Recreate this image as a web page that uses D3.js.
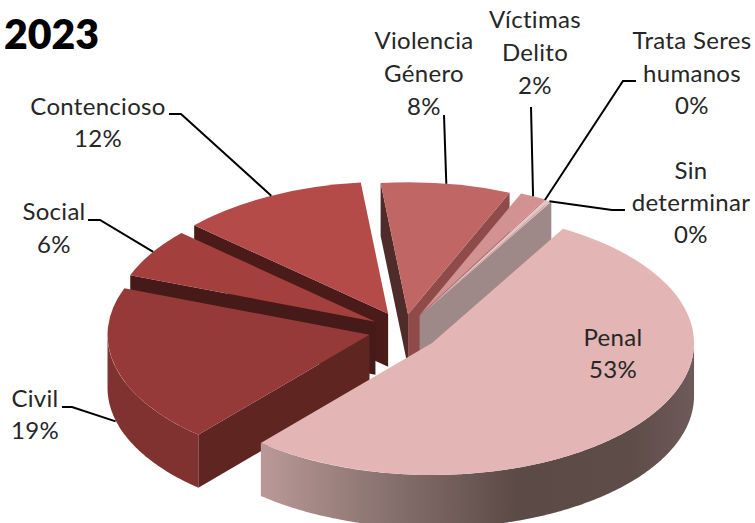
<!DOCTYPE html>
<html><head><meta charset="utf-8">
<style>html,body{margin:0;padding:0;background:#fff}svg{display:block}text{font-family:Lato,"Open Sans",sans-serif;fill:#262626}</style>
<script src="https://cdn.jsdelivr.net/npm/d3@7"></script></head>
<body><svg width="755" height="523"></svg>
<script>
// Data
const title = "2023";
const categories = ["Penal","Civil","Social","Contencioso","Violencia Género","Víctimas Delito","Trata Seres humanos","Sin determinar"];
const values = [53,19.4,6,11.6,8,1.6,0.3,0.1];
const explodeX = [0.15,0.12,0.11,0.10,0.21,0.172,0.156,0.156];
const explodeY = [0.17,0.147,0.12,0.137,0.12,0.125,0.122,0.122];
// Colours
const topColors = ["#E3B5B4","#953A38","#A33F3C","#B44B48","#C06665","#D19291","#E6C6C5","#E6C6C5"];
const startWall = ["#5E2521","#5E2521","#451A18","#4B1B19","#4F2C2A","#8F4B4A","#9E8988","#9E8988"];
const endWall = ["#5E2521","#5E2521","#451A18","#4B1B19","#8F4B4A","#A66A69","#9E8988","#9E8988"];
const outerWall = ["url(#penalWall)","#7F3230","#7F3230","#7F3230","#7F3230","#7F3230","#9E8988","#9E8988"];
// Label layout
const labelLines = [["Penal"],["Civil"],["Social"],["Contencioso"],["Violencia","Género"],["Víctimas","Delito"],["Trata Seres","humanos"],["Sin","determinar"]];
const labelX = [613,35,54,98,424,535,692,691];
const labelY = [346,407,220,115,49,28,49,179];
const lineGap = [32,32,33,32,33,33,32.5,32];
const leaderFrom = [null,[62,407],[88,220],[169,114],[444,115],[531,107],[636,81],[625,210]];
const leaderElbow = [null,[72,407],[100,220],[181,114],null,null,[623,81],[612,210]];
const leaderDrop = [0,54,0,0,0,0,0,0];
const leaderAngle = [null,null,302,333.5,null,null,28.5,29.5];

const W=755,H=523, cx=400, cy=330, rx=262, ry=132, depth=53;
const svg=d3.select("svg");
const rad=Math.PI/180;
const pct=d3.format(".0%"), total=d3.sum(values);

const defs=svg.append("defs");
const grad=defs.append("linearGradient").attr("id","penalWall").attr("gradientUnits","userSpaceOnUse").attr("x1",260).attr("x2",694).attr("y1",0).attr("y2",0);
[[0,"#BA9A98"],[0.28,"#8A7370"],[0.59,"#5C4A47"],[0.85,"#5E4C49"],[1,"#6E5B59"]].forEach(s=>grad.append("stop").attr("offset",s[0]).attr("stop-color",s[1]));

const pie=d3.pie().sort(null).startAngle(30*rad).endAngle(390*rad);
const arcs=pie(values).map((a,i)=>{
  const m=(a.startAngle+a.endAngle)/2;
  return {...a,i,mid:m,ax:cx+explodeX[i]*rx*Math.sin(m),ay:cy-explodeY[i]*ry*Math.cos(m)};
});
const pt=(s,ang,z=0)=>[s.ax+rx*Math.sin(ang), s.ay-ry*Math.cos(ang)+z];
const line=d3.line();
const arcGen=d3.arc().innerRadius(0).outerRadius(rx);
const order=[3,2,1,4,5,6,7,0];

const g=svg.append("g");
order.map(i=>arcs[i]).forEach(s=>{
  const c=g.append("g").attr("class","slice");
  // radial walls
  const wall=(ang)=>[[s.ax,s.ay],pt(s,ang),pt(s,ang,depth),[s.ax,s.ay+depth]];
  if(Math.cos(s.startAngle-Math.PI/2)<0) c.append("path").attr("d",line(wall(s.startAngle))+"Z").attr("fill",startWall[s.i]);
  if(Math.cos(s.endAngle+Math.PI/2)<0) c.append("path").attr("d",line(wall(s.endAngle))+"Z").attr("fill",endWall[s.i]);
  // outer wall on the front half of the rim
  const a0=Math.max(s.startAngle,90*rad), a1=Math.min(s.endAngle,270*rad);
  if(a1>a0){
    const ang=d3.range(a0,a1,0.01).concat([a1]);
    const pts=ang.map(t=>pt(s,t)).concat(ang.slice().reverse().map(t=>pt(s,t,depth)));
    c.append("path").attr("d",line(pts)+"Z").attr("fill",outerWall[s.i]);
  }
  // top face
  c.append("path").attr("transform",`translate(${s.ax},${s.ay}) scale(1,${ry/rx})`)
    .attr("d",arcGen(s)).attr("fill",topColors[s.i]);
});

// leaders
arcs.forEach(s=>{
  if(!leaderFrom[s.i]) return;
  const ang=leaderAngle[s.i]===null?s.mid:leaderAngle[s.i]*rad;
  const end=pt(s,ang,leaderDrop[s.i]);
  const pts=[leaderFrom[s.i]].concat(leaderElbow[s.i]?[leaderElbow[s.i]]:[]).concat([end]);
  svg.append("path").attr("d",line(pts)).attr("fill","none").attr("stroke","#000").attr("stroke-width",2);
});

// labels
arcs.forEach(s=>{
  const t=svg.append("text").attr("text-anchor","middle").attr("font-size",24).attr("letter-spacing",0.3);
  labelLines[s.i].concat([pct(values[s.i]/total)]).forEach((l,k)=>{
    t.append("tspan").attr("x",labelX[s.i]).attr("y",labelY[s.i]+k*lineGap[s.i]).text(l);
  });
});
svg.append("text").attr("x",4).attr("y",49).attr("font-size",41).attr("font-weight",800).style("fill","#000").text(title);
</script></body></html>
